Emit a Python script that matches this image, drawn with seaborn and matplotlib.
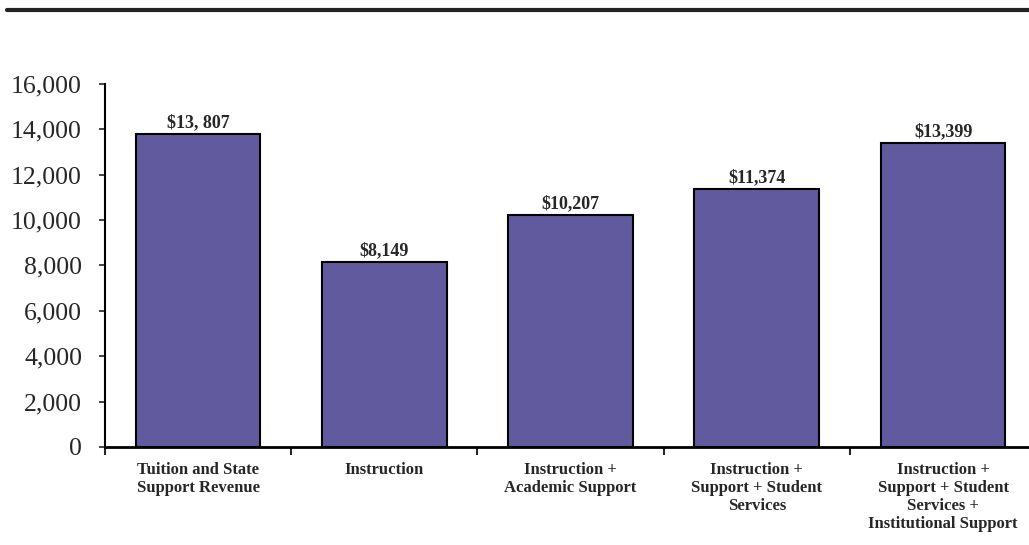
import matplotlib
matplotlib.use("Agg")
import matplotlib.pyplot as plt
import seaborn as sns
import pandas as pd
from matplotlib.lines import Line2D

# chart data
categories = [
    "Tuition and State\nSupport Revenue",
    "Instruction",
    "Instruction +\nAcademic Support",
    "Instruction +\nSupport + Student\nServices",
    "Instruction +\nSupport + Student\nServices +\nInstitutional Support",
]
values = [13807, 8149, 10207, 11374, 13399]
value_labels = ["$13, 807", "$8,149", "$10,207", "$11,374", "$13,399"]
yticks = [0, 2000, 4000, 6000, 8000, 10000, 12000, 14000, 16000]

df = pd.DataFrame({"category": categories, "value": values})

sns.set_style("white")
plt.rcParams["font.family"] = ["Liberation Serif", "DejaVu Serif"]

fig = plt.figure(figsize=(10.29, 5.45), dpi=100)
ax = fig.add_axes([0.102, 0.18, 0.905, 0.666])

sns.barplot(data=df, x="category", y="value", color="#625a9e", saturation=1,
            edgecolor="black", linewidth=1.5, width=0.67, ax=ax)

# value labels above bars
for i, (v, lab) in enumerate(zip(values, value_labels)):
    ax.text(i, v + 120, lab, ha="center", va="bottom", fontsize=13, fontweight="bold")

ax.set_ylim(0, 16000)
ax.set_xlim(-0.5, 4.5)
ax.set_yticks(yticks)
ax.set_yticklabels([f"{t:,}" for t in yticks], fontsize=18.5)
ax.tick_params(axis="y", direction="out", length=4.5, width=1.2, pad=12, left=True)

ax.set_xticks(range(len(categories)))
ax.set_xticklabels(categories, fontsize=12, fontweight="bold", linespacing=1.17)
ax.tick_params(axis="x", which="major", length=0, pad=11)
ax.set_xticks([-0.5, 0.5, 1.5, 2.5, 3.5], minor=True)
ax.tick_params(axis="x", which="minor", direction="out", length=6, width=1.5, bottom=True)

ax.set_xlabel("")
ax.set_ylabel("")
for s in ["top", "right"]:
    ax.spines[s].set_visible(False)
ax.spines["left"].set_linewidth(1.5)
ax.spines["bottom"].set_linewidth(2)
ax.spines["left"].set_color("black")
ax.spines["bottom"].set_color("black")

# top rule
fig.add_artist(Line2D([0.007, 1.0], [0.982, 0.982], transform=fig.transFigure,
                      color="#222222", linewidth=3))

fig.savefig("out.png", dpi=100)
